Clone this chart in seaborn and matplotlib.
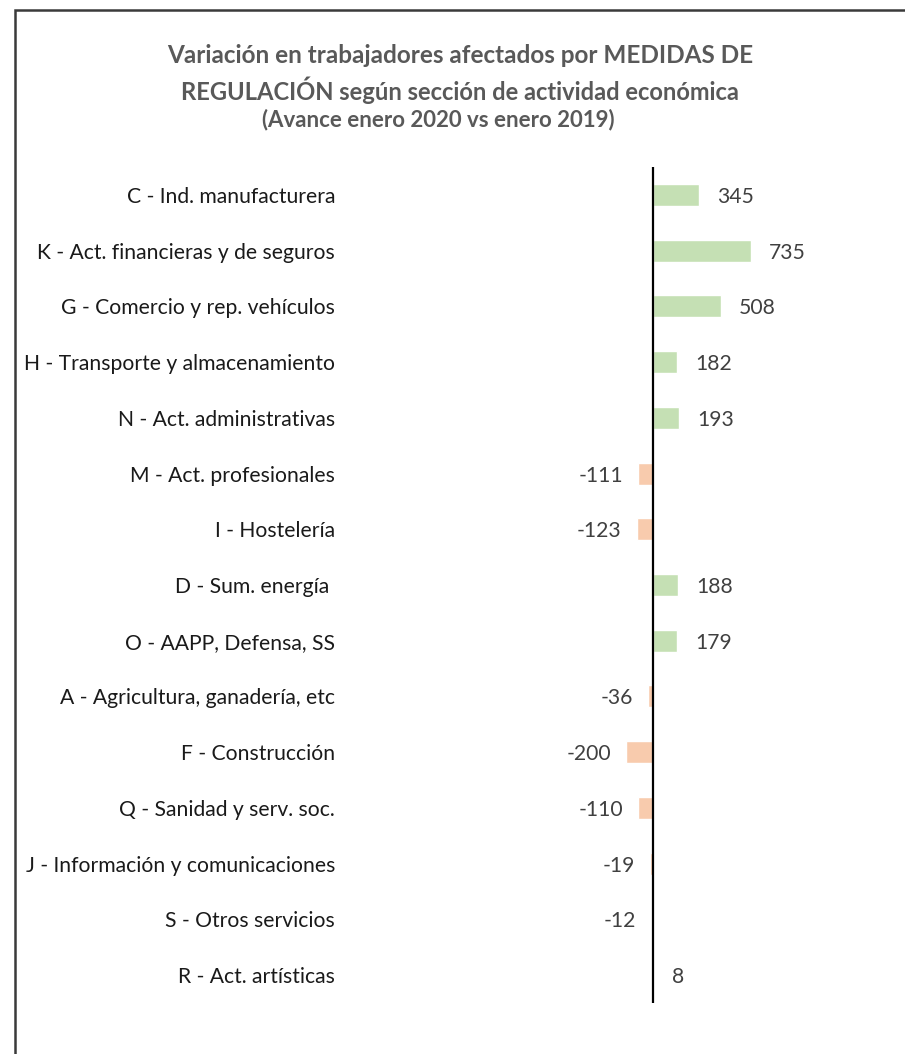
import matplotlib
matplotlib.use("Agg")
import matplotlib.pyplot as plt
import matplotlib.patches as mpatches
import seaborn as sns
import pandas as pd

categories = [
    "C - Ind. manufacturera",
    "K - Act. financieras y de seguros",
    "G - Comercio y rep. vehículos",
    "H - Transporte y almacenamiento",
    "N - Act. administrativas",
    "M - Act. profesionales",
    "I - Hostelería",
    "D - Sum. energía ",
    "O - AAPP, Defensa, SS",
    "A - Agricultura, ganadería, etc",
    "F - Construcción",
    "Q - Sanidad y serv. soc.",
    "J - Información y comunicaciones",
    "S - Otros servicios",
    "R - Act. artísticas",
]
values = [345, 735, 508, 182, 193, -111, -123, 188, 179, -36, -200, -110, -19, -12, 8]

title_lines = [
    "Variación en trabajadores afectados por MEDIDAS DE",
    "REGULACIÓN según sección de actividad económica",
    "(Avance enero 2020 vs enero 2019)",
]

sns.set_theme(style="white")
plt.rcParams["font.family"] = ["Lato", "DejaVu Sans"]

W, H = 905, 1054
fig = plt.figure(figsize=(W / 100, H / 100), dpi=100)
fig.patch.set_facecolor("white")

ax_left, ax_right, ax_top, ax_bottom = 360, 880, 167, 1003
ax = fig.add_axes([ax_left / W, 1 - ax_bottom / H,
                   (ax_right - ax_left) / W, (ax_bottom - ax_top) / H])

df = pd.DataFrame({
    "cat": categories,
    "val": values,
    "sign": ["pos" if v >= 0 else "neg" for v in values],
})

sns.barplot(data=df, y="cat", x="val", hue="sign",
            palette={"pos": "#C5E0B4", "neg": "#F8CBAD"},
            order=categories, width=0.395, dodge=False, orient="h",
            saturation=1, legend=False, ax=ax)

# zero at pixel 653, 735 at pixel 751
px_per_unit = (751 - 653) / 735
ax.set_xlim(-(653 - ax_left) / px_per_unit, (ax_right - 653) / px_per_unit)
ax.set_ylim(len(categories) - 0.5, -0.5)
ax.axvline(0, color="black", lw=1.6, zorder=5)

for s in ax.spines.values():
    s.set_visible(False)
ax.set_xticks([])
ax.set_xlabel("")
ax.set_ylabel("")
ax.tick_params(axis="y", length=0, pad=18, labelsize=14, labelcolor="#1a1a1a")

renderer = fig.canvas.get_renderer()


def fit(textobj, target_px):
    bb = textobj.get_window_extent(renderer)
    textobj.set_fontsize(textobj.get_fontsize() * target_px / bb.width)


# fit category label size to reference width
labels = ax.get_yticklabels()
ref = [l for l in labels if l.get_text().startswith("H - ")][0]
bb = ref.get_window_extent(renderer)
scale = 312 / bb.width
for l in labels:
    l.set_fontsize(l.get_fontsize() * scale)

# value labels
vlabels = []
for i, v in enumerate(values):
    if v >= 0:
        t = ax.annotate(str(v), xy=(v, i), xytext=(13, 0), textcoords="offset points",
                        ha="left", va="center_baseline", fontsize=14, color="#404040")
    else:
        t = ax.annotate(str(v), xy=(v, i), xytext=(-11, 0), textcoords="offset points",
                        ha="right", va="center_baseline", fontsize=14, color="#404040")
    vlabels.append(t)
bb = vlabels[0].get_window_extent(renderer)
vs = 37 / bb.width
for t in vlabels:
    t.set_fontsize(t.get_fontsize() * vs)

# title
t1 = fig.text(460 / W, 1 - 55 / H, title_lines[0], ha="center", va="center",
              fontsize=16, fontweight="bold", color="#595959")
t2 = fig.text(460 / W, 1 - 90 / H, title_lines[1], ha="center", va="center",
              fontsize=16, fontweight="bold", color="#595959")
t3 = fig.text(438 / W, 1 - 120 / H, title_lines[2], ha="center", va="center",
              fontsize=14, fontweight="bold", color="#595959")
fit(t1, 586)
fit(t2, 563)
fit(t3, 353)

# outer frame (left and top edges visible)
frame = mpatches.Rectangle((15 / W, -0.5), 2.0, 1.5 - 10 / H, transform=fig.transFigure,
                           fill=False, edgecolor="#3a3a3a", lw=1.8, clip_on=False)
fig.patches.append(frame)

fig.savefig("out.png", dpi=100, facecolor="white")
